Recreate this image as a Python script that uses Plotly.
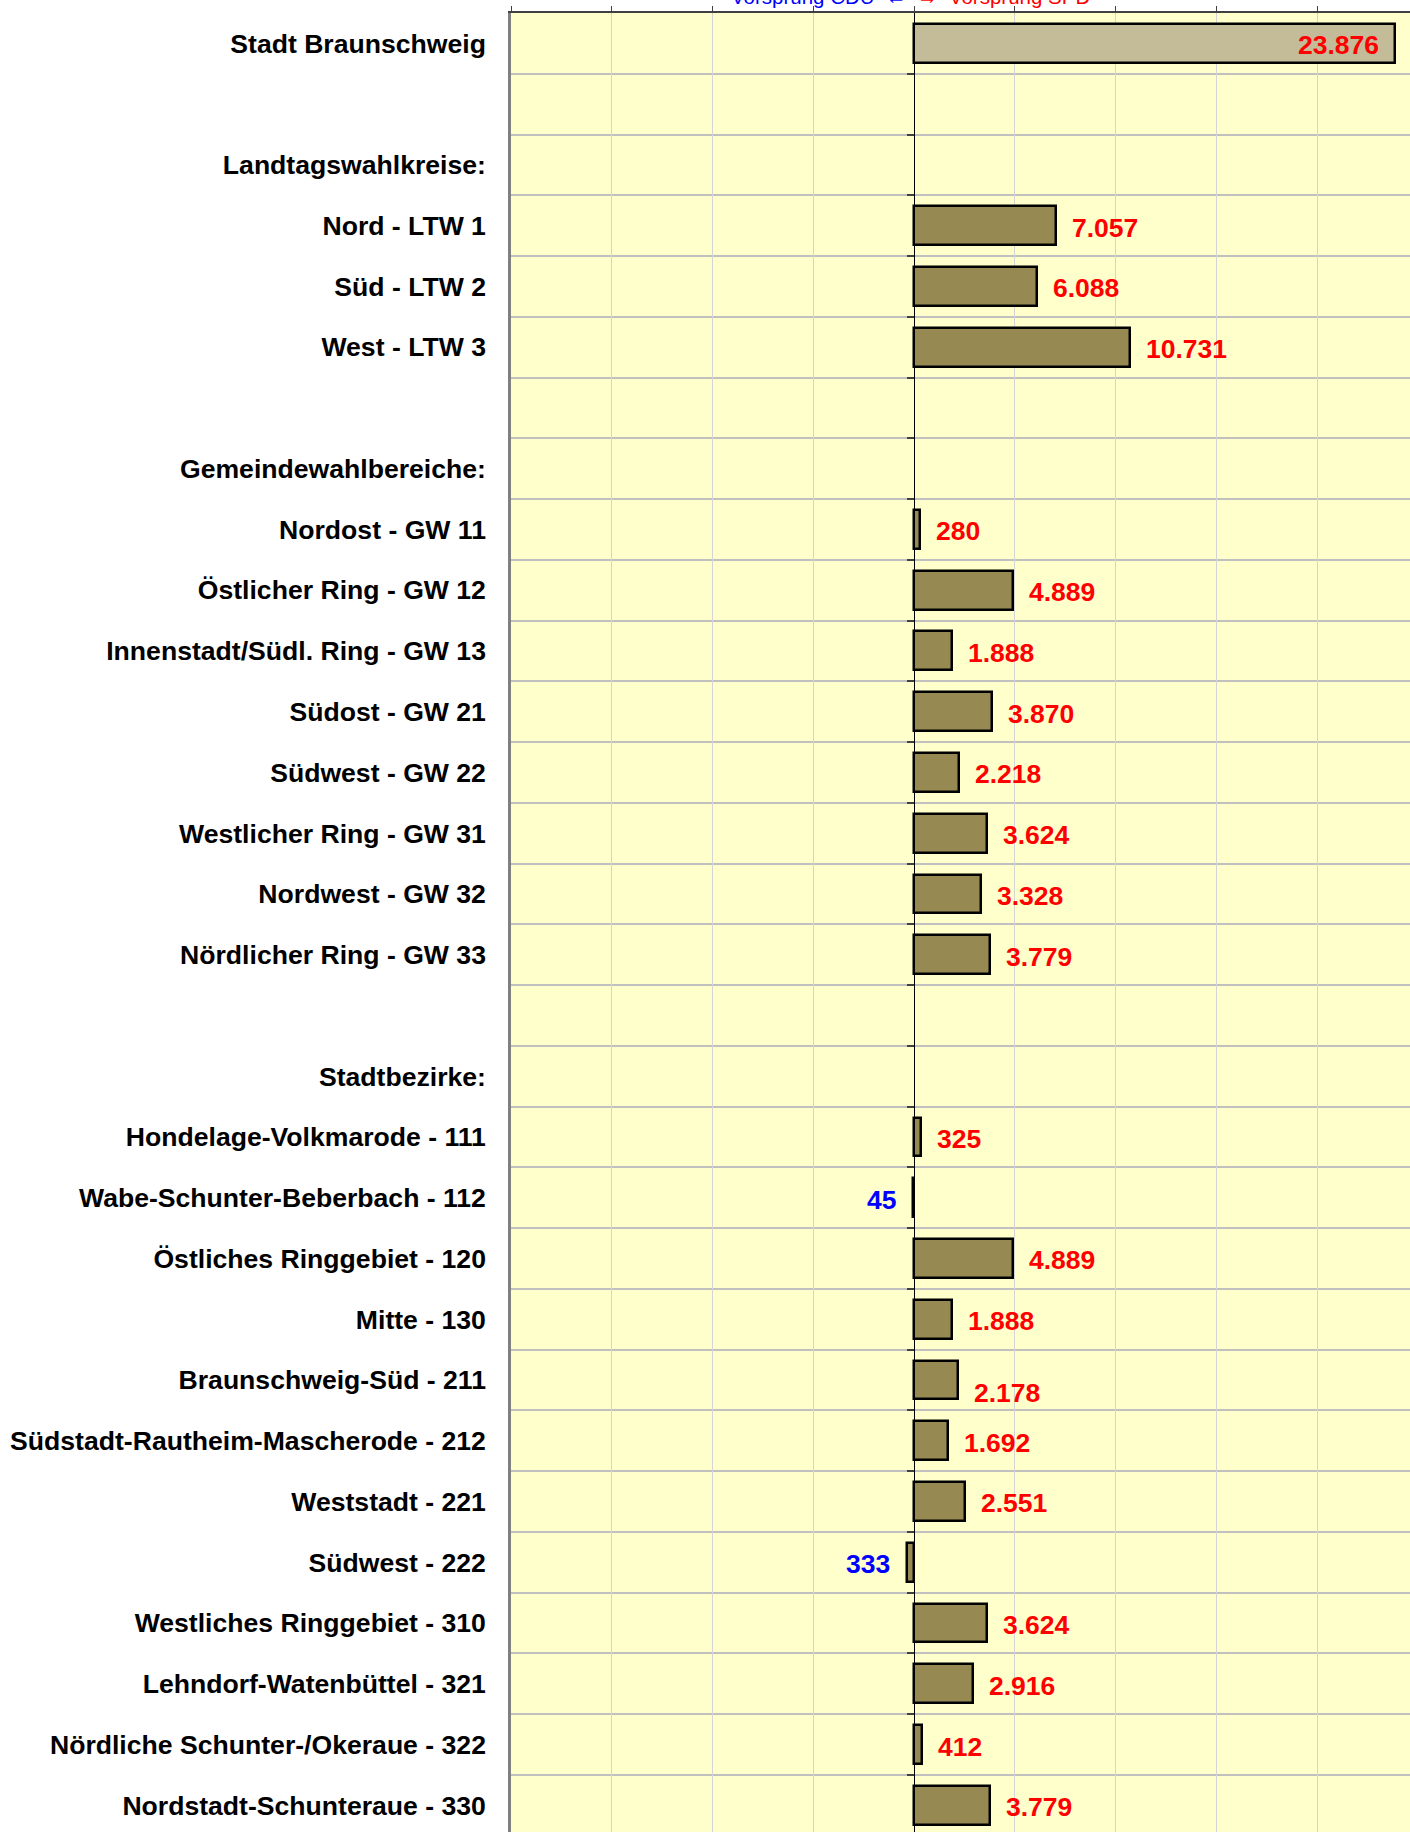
import plotly.graph_objects as go

# ---------------- data ----------------
categories = [
    "Stadt Braunschweig",
    "",
    "Landtagswahlkreise:",
    "Nord - LTW 1",
    "Süd - LTW 2",
    "West - LTW 3",
    "",
    "Gemeindewahlbereiche:",
    "Nordost - GW 11",
    "Östlicher Ring - GW 12",
    "Innenstadt/Südl. Ring - GW 13",
    "Südost - GW 21",
    "Südwest - GW 22",
    "Westlicher Ring - GW 31",
    "Nordwest - GW 32",
    "Nördlicher Ring - GW 33",
    "",
    "Stadtbezirke:",
    "Hondelage-Volkmarode - 111",
    "Wabe-Schunter-Beberbach - 112",
    "Östliches Ringgebiet - 120",
    "Mitte - 130",
    "Braunschweig-Süd - 211",
    "Südstadt-Rautheim-Mascherode - 212",
    "Weststadt - 221",
    "Südwest - 222",
    "Westliches Ringgebiet - 310",
    "Lehndorf-Watenbüttel - 321",
    "Nördliche Schunter-/Okeraue - 322",
    "Nordstadt-Schunteraue - 330",
]

# Vorsprung SPD (positive) / Vorsprung CDU (negative), in votes
vorsprung = [
    23876, None, None,
    7057, 6088, 10731,
    None, None,
    280, 4889, 1888, 3870, 2218, 3624, 3328, 3779,
    None, None,
    325, -45, 4889, 1888, 2178, 1692, 2551, -333, 3624, 2916, 412, 3779,
]

x_ticks = [-20000, -15000, -10000, -5000, 0, 5000, 10000, 15000, 20000, 25000]
header_cdu = "Vorsprung CDU  \u2190"
header_spd = "\u2192  Vorsprung SPD"

# ---------------- styling ----------------
X_MIN, X_MAX = -20000, 24613
Y_TOP, Y_BOTTOM = -0.5, 29.44
FONT = "Liberation Sans, Arial, sans-serif"
BAR_MAIN = "#968A52"
BAR_TOTAL = "#C4BC98"

n = len(categories)
ypos = list(range(n))
bar_colors = [BAR_TOTAL if i == 0 else BAR_MAIN for i in range(n)]


def fmt(v):
    return f"{abs(v):,}".replace(",", ".")


fig = go.Figure()
fig.add_trace(go.Bar(
    x=vorsprung, y=ypos, orientation="h", width=0.64,
    marker=dict(color=bar_colors, line=dict(color="black", width=2.5)),
    showlegend=False, hoverinfo="skip",
))
# helper trace for secondary y axis (tick marks along the zero line)
fig.add_trace(go.Scatter(x=[None], y=[None], yaxis="y2", mode="markers",
                         showlegend=False, hoverinfo="skip"))

label_yshift = {"Braunschweig-Süd - 211": -13}

annotations = []
for i, (cat, v) in enumerate(zip(categories, vorsprung)):
    if v is None:
        continue
    ys = label_yshift.get(cat, -2)
    if i == 0:
        annotations.append(dict(x=v, y=i, xref="x", yref="y", text=fmt(v),
                                xanchor="right", xshift=-14, yshift=ys, showarrow=False,
                                font=dict(family=FONT, size=26.5, color="#FF0000", weight="bold")))
    elif v >= 0:
        annotations.append(dict(x=v, y=i, xref="x", yref="y", text=fmt(v),
                                xanchor="left", xshift=14, yshift=ys, showarrow=False,
                                font=dict(family=FONT, size=26.5, color="#FF0000", weight="bold")))
    else:
        annotations.append(dict(x=v, y=i, xref="x", yref="y", text=fmt(v),
                                xanchor="right", xshift=-15, yshift=ys, showarrow=False,
                                font=dict(family=FONT, size=26.5, color="#0000FF", weight="bold")))

annotations.append(dict(x=0, y=1, xref="x", yref="paper", text=header_cdu,
                        xanchor="right", yanchor="bottom", xshift=-6, yshift=3,
                        showarrow=False, font=dict(family=FONT, size=20.5, color="#0000FF")))
annotations.append(dict(x=0, y=1, xref="x", yref="paper", text=header_spd,
                        xanchor="left", yanchor="bottom", xshift=1, yshift=3,
                        showarrow=False, font=dict(family=FONT, size=20.5, color="#FF0000")))

boundaries = [i + 0.5 for i in range(n)]
zero_pos = (0 - X_MIN) / (X_MAX - X_MIN)

fig.update_layout(
    width=1410, height=1832,
    margin=dict(l=511, r=0, t=13, b=0, pad=0),
    paper_bgcolor="white", plot_bgcolor="#FFFFCC",
    bargap=0,
    annotations=annotations,
    xaxis=dict(
        range=[X_MIN, X_MAX], side="top", tickvals=x_ticks, showticklabels=False,
        ticks="outside", ticklen=5, tickcolor="#404040", tickwidth=1,
        showgrid=True, gridcolor="#D4D4D4", gridwidth=1,
        zeroline=True, zerolinecolor="black", zerolinewidth=1,
        showline=True, linecolor="#404040", linewidth=2,
        fixedrange=True,
    ),
    yaxis=dict(
        range=[Y_BOTTOM, Y_TOP], tickvals=ypos, ticktext=categories,
        tickfont=dict(family=FONT, size=26.6, color="black", weight="bold"),
        ticks="", ticklabelstandoff=17, showgrid=False, zeroline=False,
        showline=True, linecolor="#808080", linewidth=2.5,
        minor=dict(tickvals=boundaries, showgrid=True, gridcolor="#C0C0C0", gridwidth=2, ticks=""),
        fixedrange=True,
    ),
    yaxis2=dict(
        overlaying="y", anchor="free", position=zero_pos, side="left",
        range=[Y_BOTTOM, Y_TOP], tickvals=boundaries, showticklabels=False,
        ticks="outside", ticklen=7, tickcolor="#404040", tickwidth=1.5,
        showgrid=False, zeroline=False, showline=False, fixedrange=True,
    ),
)

fig.write_html("out.html", config={"displayModeBar": False},
               post_script="document.body.style.margin='0px';")
